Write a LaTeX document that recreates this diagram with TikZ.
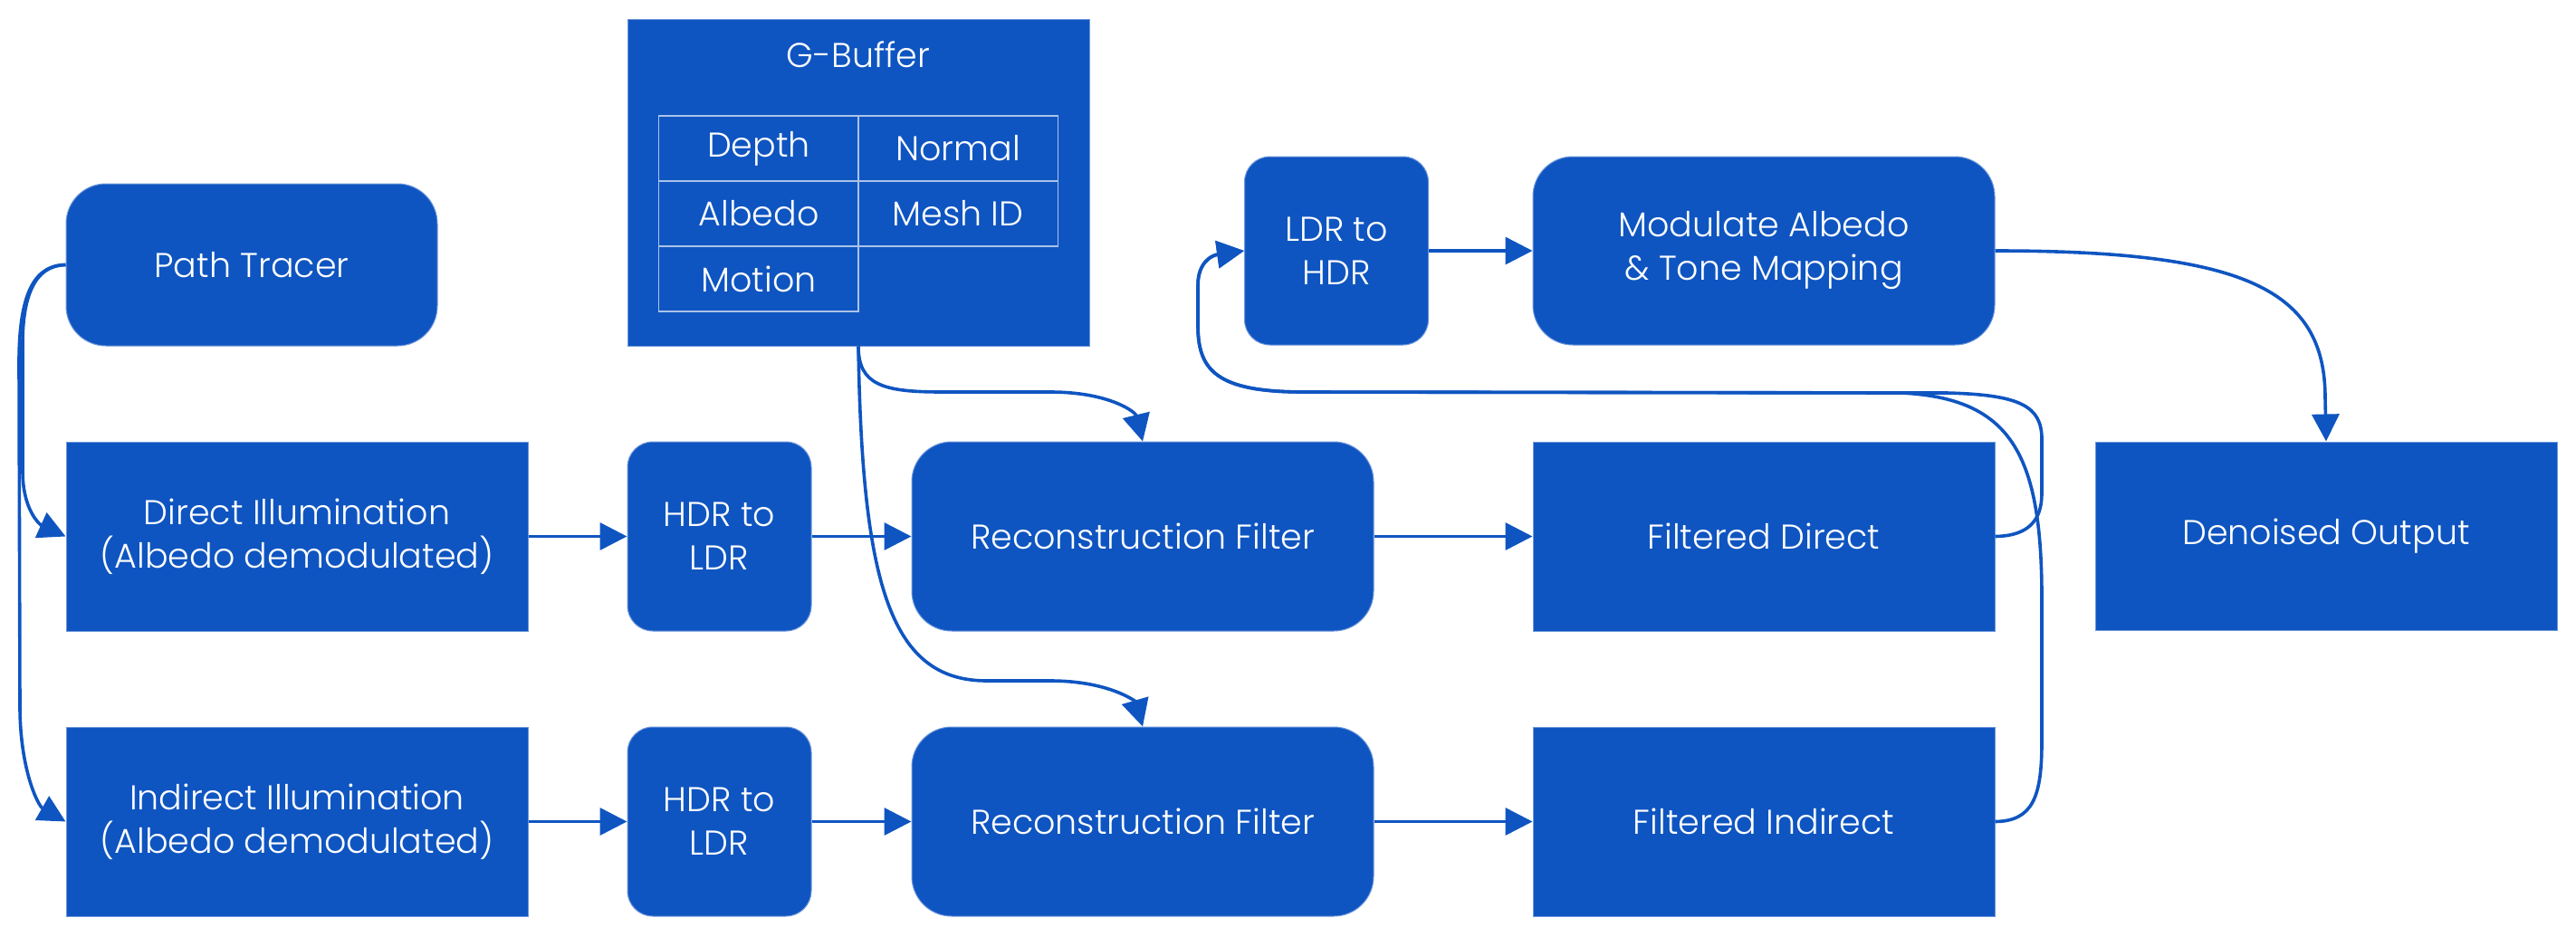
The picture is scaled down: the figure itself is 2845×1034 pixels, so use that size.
\documentclass[tikz,border=0pt]{standalone}
\usepackage{fontspec}
\setmainfont{Poppins}[UprightFont=* Light]
\usetikzlibrary{arrows.meta}
\definecolor{gblue}{HTML}{0F55C1}
\definecolor{gedge}{HTML}{6F97DA}
\tikzset{
  boxbase/.style={fill=gblue, draw=gedge, line width=1pt, text=white, align=center, inner sep=0pt,
    font=\fontsize{38}{48}\selectfont},
  sqbox/.style={boxbase, minimum width=510pt, minimum height=209pt},
  rbox/.style={boxbase, rounded corners=44pt, minimum width=510pt, minimum height=209pt},
  smbox/.style={boxbase, rounded corners=28pt, minimum width=203pt, minimum height=209pt},
  celltext/.style={text=white, inner sep=0pt, font=\fontsize{38}{44}\selectfont},
  tabline/.style={draw=white!65!gblue, line width=1.5pt},
  arr/.style={draw=gblue, line width=3.6pt, -{Triangle[length=30pt,width=30pt]}},
}
\begin{document}
\begin{tikzpicture}[x=1pt,y=-1pt]
\useasboundingbox (0,0) rectangle (2845,1034);
% nodes
\node[rbox, minimum height=179pt, minimum width=410pt] (pt) at (278,292.5) {Path Tracer};
\node[sqbox, minimum height=361pt] (gb) at (948,201.5) {};
\node[smbox, minimum height=208pt] (ldr) at (1476,277) {LDR to\\HDR};
\node[rbox, minimum height=208pt] (mod) at (1948,277) {Modulate Albedo\\\& Tone Mapping};
\node[sqbox] (di) at (328,592.5) {Direct Illumination\\(Albedo demodulated)};
\node[smbox] (h1) at (794.5,592.5) {HDR to\\LDR};
\node[rbox] (r1) at (1262,592.5) {Reconstruction Filter};
\node[sqbox] (fd) at (1948,592.5) {Filtered Direct};
\node[sqbox, minimum height=208pt] (den) at (2569,592) {Denoised Output};
\node[sqbox] (ii) at (328,907.5) {Indirect Illumination\\(Albedo demodulated)};
\node[smbox] (h2) at (794.5,907.5) {HDR to\\LDR};
\node[rbox] (r2) at (1262,907.5) {Reconstruction Filter};
\node[sqbox] (fi) at (1948,907.5) {Filtered Indirect};
% G-Buffer content
\node[celltext] (gbt) at (948,60) {G-Buffer};
\draw[tabline] (727.5,128) rectangle (1168.5,272);
\draw[tabline] (727.5,200) -- (1168.5,200);
\draw[tabline] (948,128) -- (948,344);
\draw[tabline] (727.5,272) rectangle (948,344);
\node[celltext] (c1) at (838,164) {Depth};
\node[celltext] (c2) at (1058,164) {Normal};
\node[celltext] (c3) at (838,236) {Albedo};
\node[celltext] (c4) at (1058,236) {Mesh ID};
\node[celltext] (c5) at (838,308) {Motion};
% straight connectors
\draw[arr] (di.east) -- (h1.west);
\draw[arr] (h1.east) -- (r1.west);
\draw[arr] (r1.east) -- (fd.west);
\draw[arr] (ii.east) -- (h2.west);
\draw[arr] (h2.east) -- (r2.west);
\draw[arr] (r2.east) -- (fi.west);
\draw[arr] (ldr.east) -- (mod.west);
% path tracer
\draw[arr] (pt.west) .. controls (45,293) and (25,315) .. (25,380) -- (25,520) .. controls (25,565) and (45,580) .. (di.west);
\draw[arr] (pt.west) .. controls (40,293) and (21,320) .. (21,400) -- (22,780) .. controls (22,850) and (42,890) .. (ii.west);
% g-buffer
\draw[arr] (gb.south) .. controls (948,425) and (975,433) .. (1040,433) -- (1160,433) .. controls (1225,433) and (1254,455) .. (r1.north);
\draw[arr] (gb.south) .. controls (952,650) and (985,752) .. (1090,752) -- (1160,752) .. controls (1225,752) and (1254,775) .. (r2.north);
% modulate to output
\draw[arr] (mod.east) .. controls (2480,277) and (2568,320) .. (2568,440) -- (den.north);
% feedback
\draw[arr] (fd.east) .. controls (2240,592) and (2255,575) .. (2255,545) -- (2255,485) .. controls (2255,448) and (2230,436) .. (2150,434) -- (1440,433) .. controls (1345,433) and (1323,410) .. (1323,360) -- (1323,315) .. controls (1323,290) and (1338,282) .. (ldr.west);
\draw[arr] (fi.east) .. controls (2245,907) and (2255,880) .. (2255,820) -- (2255,660) .. controls (2255,500) and (2220,440) .. (2100,434) -- (1440,433) .. controls (1345,433) and (1323,410) .. (1323,360) -- (1323,315) .. controls (1323,290) and (1338,282) .. (ldr.west);
\end{tikzpicture}
\end{document}
